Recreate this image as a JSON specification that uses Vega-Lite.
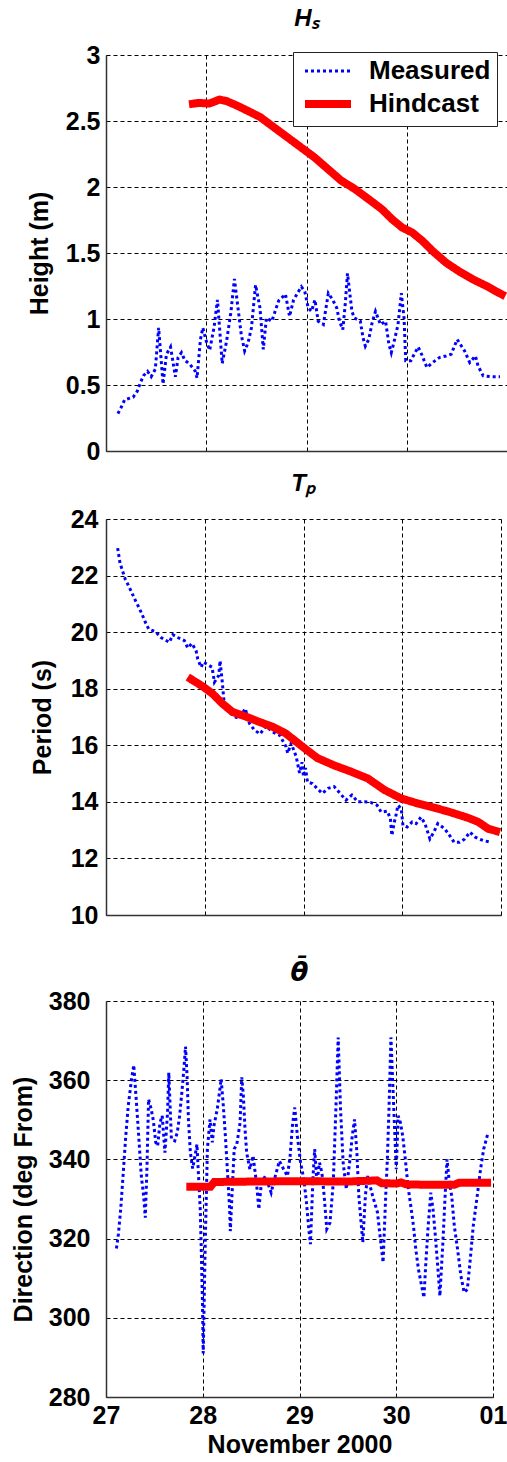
{
  "$schema": "https://vega.github.io/schema/vega-lite/v6.json",
  "background": "white",
  "padding": {"left": 11, "top": 7, "right": 0, "bottom": 0},
  "spacing": 8,
  "config": {
    "view": {"stroke": null},
    "font": "Liberation Sans",
    "axis": {
      "labelFont": "Liberation Sans", "labelFontSize": 25, "labelFontWeight": "bold", "labelColor": "#000",
      "titleFont": "Liberation Sans", "titleFontSize": 25, "titleFontWeight": "bold", "titleColor": "#000",
      "grid": true, "gridColor": "#000", "gridDash": [4, 3], "gridWidth": 1, "gridOpacity": 1,
      "domainColor": "#333", "domainWidth": 1.5, "ticks": false, "labelOverlap": false
    }
  },
  "resolve": {"scale": {"color": "independent", "strokeDash": "independent"}},
  "datasets": {
    "hs": [
      {"day":27.119,"value":0.283,"series":"Measured"},{"day":27.153,"value":0.333,"series":"Measured"},{"day":27.186,"value":0.388,"series":"Measured"},{"day":27.271,"value":0.408,"series":"Measured"},{"day":27.312,"value":0.453,"series":"Measured"},{"day":27.339,"value":0.508,"series":"Measured"},{"day":27.373,"value":0.570,"series":"Measured"},{"day":27.414,"value":0.603,"series":"Measured"},{"day":27.451,"value":0.563,"series":"Measured"},{"day":27.492,"value":0.620,"series":"Measured"},{"day":27.525,"value":0.933,"series":"Measured"},{"day":27.569,"value":0.508,"series":"Measured"},{"day":27.603,"value":0.733,"series":"Measured"},{"day":27.644,"value":0.788,"series":"Measured"},{"day":27.692,"value":0.563,"series":"Measured"},{"day":27.719,"value":0.708,"series":"Measured"},{"day":27.753,"value":0.745,"series":"Measured"},{"day":27.786,"value":0.688,"series":"Measured"},{"day":27.841,"value":0.653,"series":"Measured"},{"day":27.888,"value":0.608,"series":"Measured"},{"day":27.908,"value":0.553,"series":"Measured"},{"day":27.942,"value":0.845,"series":"Measured"},{"day":27.966,"value":0.933,"series":"Measured"},{"day":28.0,"value":0.833,"series":"Measured"},{"day":28.034,"value":0.763,"series":"Measured"},{"day":28.078,"value":0.938,"series":"Measured"},{"day":28.112,"value":1.145,"series":"Measured"},{"day":28.159,"value":0.663,"series":"Measured"},{"day":28.203,"value":0.833,"series":"Measured"},{"day":28.247,"value":1.058,"series":"Measured"},{"day":28.281,"value":1.303,"series":"Measured"},{"day":28.349,"value":0.883,"series":"Measured"},{"day":28.383,"value":0.758,"series":"Measured"},{"day":28.417,"value":0.820,"series":"Measured"},{"day":28.451,"value":0.933,"series":"Measured"},{"day":28.492,"value":1.258,"series":"Measured"},{"day":28.536,"value":1.083,"series":"Measured"},{"day":28.569,"value":0.770,"series":"Measured"},{"day":28.6,"value":1.008,"series":"Measured"},{"day":28.654,"value":0.983,"series":"Measured"},{"day":28.722,"value":1.138,"series":"Measured"},{"day":28.79,"value":1.188,"series":"Measured"},{"day":28.831,"value":1.020,"series":"Measured"},{"day":28.871,"value":1.145,"series":"Measured"},{"day":28.949,"value":1.245,"series":"Measured"},{"day":28.983,"value":1.208,"series":"Measured"},{"day":29.017,"value":1.083,"series":"Measured"},{"day":29.05,"value":1.058,"series":"Measured"},{"day":29.084,"value":1.145,"series":"Measured"},{"day":29.117,"value":0.983,"series":"Measured"},{"day":29.168,"value":0.958,"series":"Measured"},{"day":29.218,"value":1.195,"series":"Measured"},{"day":29.262,"value":1.145,"series":"Measured"},{"day":29.302,"value":1.083,"series":"Measured"},{"day":29.329,"value":0.983,"series":"Measured"},{"day":29.362,"value":0.920,"series":"Measured"},{"day":29.386,"value":1.108,"series":"Measured"},{"day":29.409,"value":1.345,"series":"Measured"},{"day":29.453,"value":1.058,"series":"Measured"},{"day":29.477,"value":1.008,"series":"Measured"},{"day":29.537,"value":0.983,"series":"Measured"},{"day":29.564,"value":0.858,"series":"Measured"},{"day":29.587,"value":0.795,"series":"Measured"},{"day":29.621,"value":0.845,"series":"Measured"},{"day":29.654,"value":0.970,"series":"Measured"},{"day":29.688,"value":1.058,"series":"Measured"},{"day":29.738,"value":0.958,"series":"Measured"},{"day":29.789,"value":0.983,"series":"Measured"},{"day":29.822,"value":0.808,"series":"Measured"},{"day":29.846,"value":0.745,"series":"Measured"},{"day":29.879,"value":0.845,"series":"Measured"},{"day":29.913,"value":0.958,"series":"Measured"},{"day":29.946,"value":1.195,"series":"Measured"},{"day":29.973,"value":1.008,"series":"Measured"},{"day":29.99,"value":0.683,"series":"Measured"},{"day":30.04,"value":0.683,"series":"Measured"},{"day":30.074,"value":0.733,"series":"Measured"},{"day":30.114,"value":0.788,"series":"Measured"},{"day":30.148,"value":0.733,"series":"Measured"},{"day":30.201,"value":0.633,"series":"Measured"},{"day":30.258,"value":0.670,"series":"Measured"},{"day":30.326,"value":0.708,"series":"Measured"},{"day":30.393,"value":0.720,"series":"Measured"},{"day":30.443,"value":0.733,"series":"Measured"},{"day":30.503,"value":0.845,"series":"Measured"},{"day":30.577,"value":0.758,"series":"Measured"},{"day":30.628,"value":0.670,"series":"Measured"},{"day":30.685,"value":0.720,"series":"Measured"},{"day":30.711,"value":0.645,"series":"Measured"},{"day":30.762,"value":0.570,"series":"Measured"},{"day":30.846,"value":0.563,"series":"Measured"},{"day":30.93,"value":0.563,"series":"Measured"},
      {"day":27.828,"value":2.627,"series":"Hindcast"},{"day":27.929,"value":2.637,"series":"Hindcast"},{"day":28.03,"value":2.632,"series":"Hindcast"},{"day":28.132,"value":2.662,"series":"Hindcast"},{"day":28.199,"value":2.652,"series":"Hindcast"},{"day":28.3,"value":2.619,"series":"Hindcast"},{"day":28.435,"value":2.569,"series":"Hindcast"},{"day":28.537,"value":2.53,"series":"Hindcast"},{"day":28.672,"value":2.454,"series":"Hindcast"},{"day":28.807,"value":2.378,"series":"Hindcast"},{"day":28.942,"value":2.302,"series":"Hindcast"},{"day":29.077,"value":2.226,"series":"Hindcast"},{"day":29.212,"value":2.137,"series":"Hindcast"},{"day":29.347,"value":2.048,"series":"Hindcast"},{"day":29.482,"value":1.985,"series":"Hindcast"},{"day":29.617,"value":1.909,"series":"Hindcast"},{"day":29.752,"value":1.832,"series":"Hindcast"},{"day":29.853,"value":1.756,"series":"Hindcast"},{"day":29.954,"value":1.693,"series":"Hindcast"},{"day":30.055,"value":1.655,"series":"Hindcast"},{"day":30.157,"value":1.591,"series":"Hindcast"},{"day":30.258,"value":1.515,"series":"Hindcast"},{"day":30.393,"value":1.426,"series":"Hindcast"},{"day":30.528,"value":1.358,"series":"Hindcast"},{"day":30.663,"value":1.299,"series":"Hindcast"},{"day":30.798,"value":1.249,"series":"Hindcast"},{"day":30.899,"value":1.206,"series":"Hindcast"},{"day":30.983,"value":1.173,"series":"Hindcast"}
    ],
    "tp": [
      {"day":27.118,"value":22.97,"series":"Measured"},{"day":27.142,"value":22.44,"series":"Measured"},{"day":27.169,"value":22.15,"series":"Measured"},{"day":27.196,"value":21.86,"series":"Measured"},{"day":27.23,"value":21.63,"series":"Measured"},{"day":27.27,"value":21.33,"series":"Measured"},{"day":27.3,"value":21.1,"series":"Measured"},{"day":27.338,"value":20.84,"series":"Measured"},{"day":27.372,"value":20.57,"series":"Measured"},{"day":27.4,"value":20.34,"series":"Measured"},{"day":27.432,"value":20.11,"series":"Measured"},{"day":27.5,"value":20.02,"series":"Measured"},{"day":27.557,"value":19.81,"series":"Measured"},{"day":27.642,"value":19.64,"series":"Measured"},{"day":27.676,"value":19.91,"series":"Measured"},{"day":27.726,"value":19.81,"series":"Measured"},{"day":27.794,"value":19.7,"series":"Measured"},{"day":27.828,"value":19.44,"series":"Measured"},{"day":27.87,"value":19.6,"series":"Measured"},{"day":27.912,"value":19.35,"series":"Measured"},{"day":27.929,"value":19.05,"series":"Measured"},{"day":27.963,"value":18.76,"series":"Measured"},{"day":27.986,"value":18.94,"series":"Measured"},{"day":28.03,"value":18.85,"series":"Measured"},{"day":28.074,"value":18.76,"series":"Measured"},{"day":28.098,"value":18.23,"series":"Measured"},{"day":28.142,"value":18.47,"series":"Measured"},{"day":28.155,"value":18.99,"series":"Measured"},{"day":28.176,"value":18.29,"series":"Measured"},{"day":28.2,"value":17.36,"series":"Measured"},{"day":28.25,"value":17.18,"series":"Measured"},{"day":28.3,"value":17.01,"series":"Measured"},{"day":28.35,"value":16.95,"series":"Measured"},{"day":28.41,"value":17.3,"series":"Measured"},{"day":28.453,"value":16.77,"series":"Measured"},{"day":28.503,"value":16.54,"series":"Measured"},{"day":28.56,"value":16.4,"series":"Measured"},{"day":28.62,"value":16.68,"series":"Measured"},{"day":28.682,"value":16.48,"series":"Measured"},{"day":28.757,"value":16.36,"series":"Measured"},{"day":28.824,"value":15.95,"series":"Measured"},{"day":28.84,"value":15.72,"series":"Measured"},{"day":28.875,"value":16.07,"series":"Measured"},{"day":28.926,"value":15.6,"series":"Measured"},{"day":28.96,"value":15.02,"series":"Measured"},{"day":28.985,"value":15.4,"series":"Measured"},{"day":29.0,"value":14.89,"series":"Measured"},{"day":29.02,"value":15.2,"series":"Measured"},{"day":29.04,"value":14.7,"series":"Measured"},{"day":29.09,"value":14.65,"series":"Measured"},{"day":29.136,"value":14.48,"series":"Measured"},{"day":29.19,"value":14.3,"series":"Measured"},{"day":29.25,"value":14.48,"series":"Measured"},{"day":29.31,"value":14.54,"series":"Measured"},{"day":29.37,"value":14.3,"series":"Measured"},{"day":29.43,"value":14.06,"series":"Measured"},{"day":29.49,"value":14.24,"series":"Measured"},{"day":29.55,"value":14.0,"series":"Measured"},{"day":29.62,"value":14.0,"series":"Measured"},{"day":29.68,"value":13.98,"series":"Measured"},{"day":29.745,"value":13.88,"series":"Measured"},{"day":29.786,"value":13.64,"series":"Measured"},{"day":29.85,"value":13.67,"series":"Measured"},{"day":29.88,"value":13.4,"series":"Measured"},{"day":29.895,"value":12.81,"series":"Measured"},{"day":29.92,"value":13.29,"series":"Measured"},{"day":29.94,"value":13.58,"series":"Measured"},{"day":29.956,"value":13.88,"series":"Measured"},{"day":29.99,"value":13.76,"series":"Measured"},{"day":30.007,"value":13.17,"series":"Measured"},{"day":30.05,"value":13.11,"series":"Measured"},{"day":30.1,"value":13.29,"series":"Measured"},{"day":30.14,"value":13.23,"series":"Measured"},{"day":30.19,"value":13.46,"series":"Measured"},{"day":30.23,"value":13.23,"series":"Measured"},{"day":30.28,"value":12.69,"series":"Measured"},{"day":30.32,"value":12.93,"series":"Measured"},{"day":30.36,"value":13.23,"series":"Measured"},{"day":30.43,"value":13.05,"series":"Measured"},{"day":30.48,"value":12.81,"series":"Measured"},{"day":30.525,"value":12.57,"series":"Measured"},{"day":30.58,"value":12.57,"series":"Measured"},{"day":30.634,"value":12.69,"series":"Measured"},{"day":30.685,"value":12.93,"series":"Measured"},{"day":30.74,"value":12.75,"series":"Measured"},{"day":30.82,"value":12.63,"series":"Measured"},{"day":30.9,"value":12.57,"series":"Measured"},
      {"day":27.828,"value":18.41,"series":"Hindcast"},{"day":27.98,"value":18.08,"series":"Hindcast"},{"day":28.08,"value":17.82,"series":"Hindcast"},{"day":28.18,"value":17.47,"series":"Hindcast"},{"day":28.28,"value":17.18,"series":"Hindcast"},{"day":28.42,"value":17.01,"series":"Hindcast"},{"day":28.55,"value":16.83,"series":"Hindcast"},{"day":28.69,"value":16.65,"series":"Hindcast"},{"day":28.82,"value":16.42,"series":"Hindcast"},{"day":28.99,"value":15.95,"series":"Hindcast"},{"day":29.14,"value":15.55,"series":"Hindcast"},{"day":29.31,"value":15.29,"series":"Hindcast"},{"day":29.48,"value":15.07,"series":"Hindcast"},{"day":29.65,"value":14.83,"series":"Hindcast"},{"day":29.82,"value":14.42,"series":"Hindcast"},{"day":29.99,"value":14.12,"series":"Hindcast"},{"day":30.16,"value":13.94,"series":"Hindcast"},{"day":30.33,"value":13.79,"series":"Hindcast"},{"day":30.5,"value":13.62,"series":"Hindcast"},{"day":30.67,"value":13.43,"series":"Hindcast"},{"day":30.77,"value":13.29,"series":"Hindcast"},{"day":30.87,"value":13.05,"series":"Hindcast"},{"day":30.99,"value":12.93,"series":"Hindcast"}
    ],
    "dir": [
      {"day":27.108,"value":317.5,"series":"Measured"},{"day":27.128,"value":321.1,"series":"Measured"},{"day":27.152,"value":327.4,"series":"Measured"},{"day":27.176,"value":335.8,"series":"Measured"},{"day":27.203,"value":345.5,"series":"Measured"},{"day":27.23,"value":353.5,"series":"Measured"},{"day":27.264,"value":360.3,"series":"Measured"},{"day":27.287,"value":363.8,"series":"Measured"},{"day":27.311,"value":355.6,"series":"Measured"},{"day":27.338,"value":345.9,"series":"Measured"},{"day":27.365,"value":335.8,"series":"Measured"},{"day":27.389,"value":330.8,"series":"Measured"},{"day":27.406,"value":325.3,"series":"Measured"},{"day":27.423,"value":337.5,"series":"Measured"},{"day":27.44,"value":355.2,"series":"Measured"},{"day":27.467,"value":352.7,"series":"Measured"},{"day":27.49,"value":349.7,"series":"Measured"},{"day":27.514,"value":344.3,"series":"Measured"},{"day":27.534,"value":343.4,"series":"Measured"},{"day":27.558,"value":349.3,"series":"Measured"},{"day":27.581,"value":351.0,"series":"Measured"},{"day":27.609,"value":341.7,"series":"Measured"},{"day":27.636,"value":351.8,"series":"Measured"},{"day":27.649,"value":361.9,"series":"Measured"},{"day":27.676,"value":345.1,"series":"Measured"},{"day":27.71,"value":344.7,"series":"Measured"},{"day":27.737,"value":346.8,"series":"Measured"},{"day":27.761,"value":351.0,"series":"Measured"},{"day":27.784,"value":356.9,"series":"Measured"},{"day":27.805,"value":362.8,"series":"Measured"},{"day":27.822,"value":368.5,"series":"Measured"},{"day":27.838,"value":361.0,"series":"Measured"},{"day":27.852,"value":350.1,"series":"Measured"},{"day":27.872,"value":341.7,"series":"Measured"},{"day":27.896,"value":337.7,"series":"Measured"},{"day":27.92,"value":340.9,"series":"Measured"},{"day":27.94,"value":343.8,"series":"Measured"},{"day":27.953,"value":337.5,"series":"Measured"},{"day":27.974,"value":327.4,"series":"Measured"},{"day":27.987,"value":314.8,"series":"Measured"},{"day":27.997,"value":303.8,"series":"Measured"},{"day":28.005,"value":291.0,"series":"Measured"},{"day":28.025,"value":318.0,"series":"Measured"},{"day":28.048,"value":342.6,"series":"Measured"},{"day":28.075,"value":350.1,"series":"Measured"},{"day":28.099,"value":344.3,"series":"Measured"},{"day":28.116,"value":348.5,"series":"Measured"},{"day":28.15,"value":352.7,"series":"Measured"},{"day":28.177,"value":357.7,"series":"Measured"},{"day":28.19,"value":360.3,"series":"Measured"},{"day":28.21,"value":354.4,"series":"Measured"},{"day":28.234,"value":345.9,"series":"Measured"},{"day":28.258,"value":335.8,"series":"Measured"},{"day":28.278,"value":327.4,"series":"Measured"},{"day":28.285,"value":321.9,"series":"Measured"},{"day":28.302,"value":330.8,"series":"Measured"},{"day":28.325,"value":342.6,"series":"Measured"},{"day":28.352,"value":343.8,"series":"Measured"},{"day":28.386,"value":349.3,"series":"Measured"},{"day":28.403,"value":360.7,"series":"Measured"},{"day":28.42,"value":356.0,"series":"Measured"},{"day":28.437,"value":347.6,"series":"Measured"},{"day":28.454,"value":341.7,"series":"Measured"},{"day":28.487,"value":337.5,"series":"Measured"},{"day":28.52,"value":340.9,"series":"Measured"},{"day":28.555,"value":334.1,"series":"Measured"},{"day":28.58,"value":327.4,"series":"Measured"},{"day":28.606,"value":334.1,"series":"Measured"},{"day":28.647,"value":335.8,"series":"Measured"},{"day":28.707,"value":331.6,"series":"Measured"},{"day":28.741,"value":335.0,"series":"Measured"},{"day":28.792,"value":339.6,"series":"Measured"},{"day":28.836,"value":337.5,"series":"Measured"},{"day":28.876,"value":335.8,"series":"Measured"},{"day":28.903,"value":340.9,"series":"Measured"},{"day":28.927,"value":348.5,"series":"Measured"},{"day":28.951,"value":353.1,"series":"Measured"},{"day":28.978,"value":345.9,"series":"Measured"},{"day":29.011,"value":339.2,"series":"Measured"},{"day":29.045,"value":335.0,"series":"Measured"},{"day":29.072,"value":329.1,"series":"Measured"},{"day":29.096,"value":322.4,"series":"Measured"},{"day":29.113,"value":318.6,"series":"Measured"},{"day":29.14,"value":335.8,"series":"Measured"},{"day":29.157,"value":342.6,"series":"Measured"},{"day":29.18,"value":334.1,"series":"Measured"},{"day":29.207,"value":339.2,"series":"Measured"},{"day":29.231,"value":336.7,"series":"Measured"},{"day":29.255,"value":330.8,"series":"Measured"},{"day":29.282,"value":322.4,"series":"Measured"},{"day":29.315,"value":324.0,"series":"Measured"},{"day":29.349,"value":334.1,"series":"Measured"},{"day":29.376,"value":352.7,"series":"Measured"},{"day":29.4,"value":370.8,"series":"Measured"},{"day":29.424,"value":352.7,"series":"Measured"},{"day":29.451,"value":339.2,"series":"Measured"},{"day":29.484,"value":332.5,"series":"Measured"},{"day":29.518,"value":339.2,"series":"Measured"},{"day":29.545,"value":345.9,"series":"Measured"},{"day":29.569,"value":350.1,"series":"Measured"},{"day":29.593,"value":341.7,"series":"Measured"},{"day":29.613,"value":330.8,"series":"Measured"},{"day":29.637,"value":324.0,"series":"Measured"},{"day":29.654,"value":319.0,"series":"Measured"},{"day":29.681,"value":330.8,"series":"Measured"},{"day":29.703,"value":335.8,"series":"Measured"},{"day":29.756,"value":330.8,"series":"Measured"},{"day":29.806,"value":326.6,"series":"Measured"},{"day":29.84,"value":319.0,"series":"Measured"},{"day":29.864,"value":314.0,"series":"Measured"},{"day":29.891,"value":330.8,"series":"Measured"},{"day":29.908,"value":340.0,"series":"Measured"},{"day":29.925,"value":352.7,"series":"Measured"},{"day":29.945,"value":370.8,"series":"Measured"},{"day":29.965,"value":358.6,"series":"Measured"},{"day":29.986,"value":345.9,"series":"Measured"},{"day":30.0,"value":337.5,"series":"Measured"},{"day":30.02,"value":351.0,"series":"Measured"},{"day":30.043,"value":349.3,"series":"Measured"},{"day":30.067,"value":345.9,"series":"Measured"},{"day":30.094,"value":340.0,"series":"Measured"},{"day":30.121,"value":333.3,"series":"Measured"},{"day":30.155,"value":327.4,"series":"Measured"},{"day":30.178,"value":323.2,"series":"Measured"},{"day":30.202,"value":317.3,"series":"Measured"},{"day":30.229,"value":312.3,"series":"Measured"},{"day":30.263,"value":308.0,"series":"Measured"},{"day":30.286,"value":305.1,"series":"Measured"},{"day":30.306,"value":314.0,"series":"Measured"},{"day":30.33,"value":323.2,"series":"Measured"},{"day":30.357,"value":331.6,"series":"Measured"},{"day":30.38,"value":327.4,"series":"Measured"},{"day":30.404,"value":320.7,"series":"Measured"},{"day":30.431,"value":312.3,"series":"Measured"},{"day":30.451,"value":305.5,"series":"Measured"},{"day":30.482,"value":319.0,"series":"Measured"},{"day":30.505,"value":330.8,"series":"Measured"},{"day":30.525,"value":340.0,"series":"Measured"},{"day":30.549,"value":334.1,"series":"Measured"},{"day":30.573,"value":330.8,"series":"Measured"},{"day":30.6,"value":323.2,"series":"Measured"},{"day":30.634,"value":317.3,"series":"Measured"},{"day":30.668,"value":310.6,"series":"Measured"},{"day":30.702,"value":306.4,"series":"Measured"},{"day":30.735,"value":307.2,"series":"Measured"},{"day":30.762,"value":314.0,"series":"Measured"},{"day":30.796,"value":323.2,"series":"Measured"},{"day":30.837,"value":330.8,"series":"Measured"},{"day":30.871,"value":337.5,"series":"Measured"},{"day":30.904,"value":342.6,"series":"Measured"},{"day":30.945,"value":346.4,"series":"Measured"},
      {"day":27.83,"value":333.1,"series":"Hindcast"},{"day":28.08,"value":333.1,"series":"Hindcast"},{"day":28.12,"value":334.3,"series":"Hindcast"},{"day":28.5,"value":334.4,"series":"Hindcast"},{"day":29.0,"value":334.5,"series":"Hindcast"},{"day":29.5,"value":334.4,"series":"Hindcast"},{"day":29.7,"value":334.6,"series":"Hindcast"},{"day":29.8,"value":334.7,"series":"Hindcast"},{"day":29.85,"value":334.0,"series":"Hindcast"},{"day":30.0,"value":333.9,"series":"Hindcast"},{"day":30.05,"value":334.2,"series":"Hindcast"},{"day":30.1,"value":333.7,"series":"Hindcast"},{"day":30.3,"value":333.6,"series":"Hindcast"},{"day":30.6,"value":333.6,"series":"Hindcast"},{"day":30.65,"value":334.1,"series":"Hindcast"},{"day":30.98,"value":334.1,"series":"Hindcast"}
    ]
  },
  "vconcat": [
    {
      "width": 401, "height": 396,
      "data": {"name": "hs"},
      "title": {"text": "Hₛ", "offset": 12, "font": "Liberation Sans", "fontSize": 24, "fontStyle": "italic", "fontWeight": "bold", "color": "#000", "anchor": "middle"},
      "mark": {"type": "line", "clip": true},
      "encoding": {
        "x": {"field": "day", "type": "quantitative", "scale": {"domain": [27, 31], "nice": false},
              "axis": {"values": [27, 28, 29, 30, 31], "labels": false, "title": null}},
        "y": {"field": "value", "type": "quantitative", "scale": {"domain": [0, 3], "nice": false},
              "axis": {"values": [0, 0.5, 1, 1.5, 2, 2.5, 3], "format": "~g", "title": "Height (m)", "labelPadding": 6, "titlePadding": 13}},
        "color": {"field": "series", "type": "nominal", "scale": {"domain": ["Measured", "Hindcast"], "range": ["#0000ff", "#ff0000"]},
                  "legend": {"title": null, "orient": "none", "legendX": 187, "legendY": -3,
                             "strokeColor": "#222", "fillColor": "white", "padding": 6,
                             "labelFont": "Liberation Sans", "labelFontSize": 26, "labelFontWeight": "bold", "labelColor": "#000",
                             "symbolType": "stroke", "symbolSize": 2116, "labelOffset": 28, "rowPadding": 4, "symbolOffset": 16,
                             "encode": {"symbols": {"update": {"strokeWidth": {"signal": "datum.value === 'Hindcast' ? 8 : 3"}}}}}},
        "strokeDash": {"field": "series", "type": "nominal", "scale": {"domain": ["Measured", "Hindcast"], "range": [[3, 3], [1, 0]]}},
        "strokeWidth": {"condition": {"test": "datum.series === 'Hindcast'", "value": 8}, "value": 3}
      }
    },
    {
      "width": 395, "height": 396,
      "data": {"name": "tp"},
      "title": {"text": "Tₚ", "offset": 11, "font": "Liberation Sans", "fontSize": 24, "fontStyle": "italic", "fontWeight": "bold", "color": "#000", "anchor": "middle"},
      "mark": {"type": "line", "clip": true},
      "encoding": {
        "x": {"field": "day", "type": "quantitative", "scale": {"domain": [27, 31], "nice": false},
              "axis": {"values": [27, 28, 29, 30, 31], "labels": false, "title": null, "minExtent": 37}},
        "y": {"field": "value", "type": "quantitative", "scale": {"domain": [10, 24], "nice": false},
              "axis": {"values": [10, 12, 14, 16, 18, 20, 22, 24], "format": "d", "title": "Period (s)", "labelPadding": 8, "titlePadding": 15}},
        "color": {"field": "series", "type": "nominal", "scale": {"domain": ["Measured", "Hindcast"], "range": ["#0000ff", "#ff0000"]}, "legend": null},
        "strokeDash": {"field": "series", "type": "nominal", "scale": {"domain": ["Measured", "Hindcast"], "range": [[3, 3], [1, 0]]}, "legend": null},
        "strokeWidth": {"condition": {"test": "datum.series === 'Hindcast'", "value": 8}, "value": 3}
      }
    },
    {
      "width": 387, "height": 396,
      "data": {"name": "dir"},
      "title": {"text": "θ̄", "offset": 3, "font": "DejaVu Sans", "fontSize": 26, "fontStyle": "italic", "fontWeight": "bold", "color": "#000", "anchor": "middle"},
      "mark": {"type": "line", "clip": true},
      "encoding": {
        "x": {"field": "day", "type": "quantitative", "scale": {"domain": [27, 31], "nice": false},
              "axis": {"values": [27, 28, 29, 30, 31], "labelExpr": "datum.value == 31 ? '01' : '' + datum.value", "labelFlush": false,
                       "labelPadding": 6, "title": "November 2000", "titlePadding": 4}},
        "y": {"field": "value", "type": "quantitative", "scale": {"domain": [280, 380], "nice": false},
              "axis": {"values": [280, 300, 320, 340, 360, 380], "format": "d", "title": "Direction (deg From)", "labelPadding": 16, "titlePadding": 12}},
        "color": {"field": "series", "type": "nominal", "scale": {"domain": ["Measured", "Hindcast"], "range": ["#0000ff", "#ff0000"]}, "legend": null},
        "strokeDash": {"field": "series", "type": "nominal", "scale": {"domain": ["Measured", "Hindcast"], "range": [[3, 3], [1, 0]]}, "legend": null},
        "strokeWidth": {"condition": {"test": "datum.series === 'Hindcast'", "value": 8}, "value": 3}
      }
    }
  ]
}
